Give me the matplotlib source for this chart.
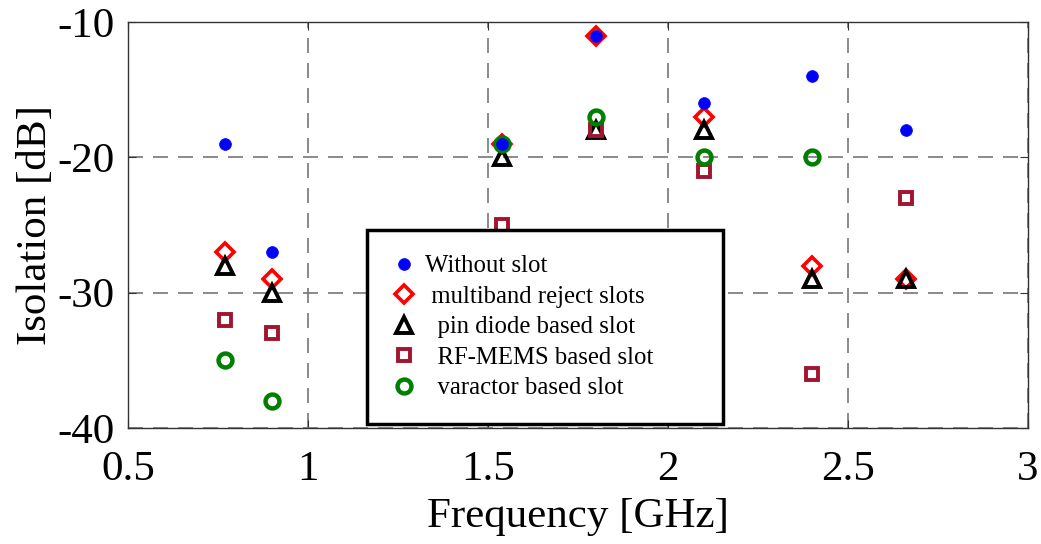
import numpy as np
import matplotlib
matplotlib.use("Agg")
import matplotlib.pyplot as plt

# Frequencies where isolation was measured (GHz)
FREQ = [0.77, 0.9, 1.54, 1.8, 2.1, 2.4, 2.66]

# Isolation in dB per configuration (nan = not measured)
WITHOUT_SLOT = [-19, -27, -19, -11, -16, -14, -18]
MULTIBAND    = [-27, -29, -19, -11, -17, -28, -29]
PIN_DIODE    = [-28, -30, -20, -18, -18, -29, -29]
RF_MEMS      = [-32, -33, -25, -18, -21, -36, -23]
VARACTOR     = [-35, -38, -19, -17, -20, -20, np.nan]

plt.rcParams.update({
    "font.family": "Liberation Serif",
    "mathtext.fontset": "stix",
})

fig = plt.figure(figsize=(10.41, 5.44), dpi=100)
ax = fig.add_axes([0.123, 0.2132, 0.8645, 0.7464])

# label, data, marker, face, edge, size, edge width, z-order
SERIES = [
    ("Without slot",            WITHOUT_SLOT, "o", "#0000FF", "#0000FF", 8.5, 0.5, 7),
    (" multiband reject slots", MULTIBAND,    "D", "none",    "#FF0000", 9.5, 2.6, 3),
    ("  pin diode based slot",  PIN_DIODE,    "^", "none",    "#000000", 11,  2.8, 4),
    ("  RF-MEMS based slot",    RF_MEMS,      "s", "none",    "#A2142F", 8,   2.8, 5),
    ("  varactor based slot",   VARACTOR,     "o", "none",    "#008000", 10,  3.2, 6),
]

handles = []
for label, vals, mk, fc, ec, ms, mew, z in SERIES:
    h, = ax.plot(FREQ, vals, linestyle="none", marker=mk, markersize=ms,
                 markerfacecolor=fc, markeredgecolor=ec, markeredgewidth=mew,
                 label=label, zorder=z, clip_on=False)
    handles.append(h)

ax.set_xlim(0.5, 3)
ax.set_ylim(-40, -10)
ax.set_xticks([0.5, 1, 1.5, 2, 2.5, 3])
ax.set_xticklabels(["0.5", "1", "1.5", "2", "2.5", "3"])
ax.set_yticks([-40, -30, -20, -10])
ax.set_yticklabels(["-40", "-30", "-20", "-10"])
ax.tick_params(direction="in", length=6, width=0.8, labelsize=31,
               top=True, right=True, color="#333333")
ax.tick_params(axis="x", pad=16)
ax.tick_params(axis="y", pad=9.5)
for sp in ax.spines.values():
    sp.set_linewidth(1.0)
    sp.set_color("#333333")

ax.grid(True, color="#777777", linestyle=(0, (9, 6)), linewidth=1.2)
ax.set_axisbelow(True)

ax.set_xlabel("Frequency [GHz]", fontsize=31, labelpad=6)
ax.set_ylabel("Isolation [dB]", fontsize=31, labelpad=2)

leg = ax.legend(handles=handles, loc="lower left", mode="expand",
                bbox_to_anchor=(0.2656, 0.01, 0.395, 0.465), fontsize=17.8,
                frameon=True, fancybox=False, borderpad=1.0,
                labelspacing=0.33, handlelength=1.0, handletextpad=0.35,
                borderaxespad=0, framealpha=1)
leg.get_frame().set_edgecolor("black")
leg.get_frame().set_linewidth(2.5)
leg.set_zorder(10)

fig.savefig("out.png", dpi=100)
